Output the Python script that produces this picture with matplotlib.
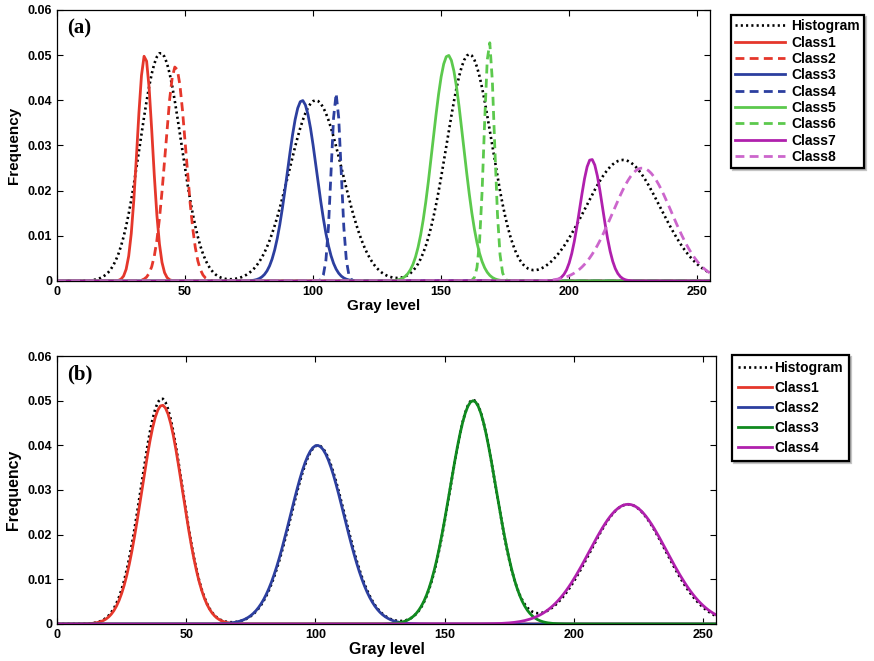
import numpy as np
import matplotlib
matplotlib.use("Agg")
import matplotlib.pyplot as plt
from matplotlib import font_manager

plt.rcParams['font.family'] = ['Liberation Sans', 'DejaVu Sans']
plt.rcParams['font.weight'] = 'bold'

# Gray levels of an 8-bit image
gray_levels = np.arange(256)

# Histogram: four Gaussian modes (peak height, centre, spread)
hist_peaks = [0.0505, 0.0400, 0.0502, 0.0268]
hist_means = [40.5, 101.0, 161.0, 221.0]
hist_sigmas = [8.0, 10.4, 8.8, 14.6]

# (a) eight fitted classes
a_labels = ['Class1', 'Class2', 'Class3', 'Class4',
            'Class5', 'Class6', 'Class7', 'Class8']
a_peaks = [0.050, 0.0475, 0.040, 0.0415, 0.050, 0.053, 0.027, 0.025]
a_means = [34.3, 46.3, 95.7, 109.0, 152.7, 168.8, 208.6, 228.5]
a_sigmas = [3.0, 4.0, 5.7, 1.9, 6.0, 2.0, 4.4, 11.5]
a_colors = ['#e5372b', '#e5372b', '#2c3f9f', '#2c3f9f',
            '#5cc94d', '#5cc94d', '#b020ad', '#cc66cc']
a_styles = ['-', '--', '-', '--', '-', '--', '-', '--']

# (b) four fitted classes
b_labels = ['Class1', 'Class2', 'Class3', 'Class4']
b_peaks = [0.049, 0.040, 0.050, 0.0268]
b_means = [40.7, 100.7, 161.0, 221.0]
b_sigmas = [7.9, 10.4, 8.9, 15.0]
b_colors = ['#e5372b', '#2c3f9f', '#108a1f', '#b020ad']

x_ticks = [0, 50, 100, 150, 200, 250]
y_ticks = [0, 0.01, 0.02, 0.03, 0.04, 0.05, 0.06]
y_tick_labels = ['0', '0.01', '0.02', '0.03', '0.04', '0.05', '0.06']


def gauss(x, peak, mean, sigma):
    return peak * np.exp(-0.5 * ((x - mean) / sigma) ** 2)


histogram = sum(gauss(gray_levels, p, m, s)
                for p, m, s in zip(hist_peaks, hist_means, hist_sigmas))

available = {f.name for f in font_manager.fontManager.ttflist}
legend_a_family = ('Liberation Sans Narrow' if 'Liberation Sans Narrow' in available
                   else 'Liberation Sans')

fig = plt.figure(figsize=(8.74, 6.61), dpi=100)
ax_a = fig.add_axes([0.0652, 0.5749, 0.7472, 0.4100])
ax_b = fig.add_axes([0.0652, 0.0560, 0.7540, 0.4054])

dot_style = (0, (0.8, 1.2))

# Panel (a)
ax_a.plot(gray_levels, histogram, color='black', lw=1.9, ls=dot_style,
          label='Histogram')
for lab, p, m, s, c, st in zip(a_labels, a_peaks, a_means, a_sigmas,
                               a_colors, a_styles):
    ax_a.plot(gray_levels, gauss(gray_levels, p, m, s), color=c, lw=2.0,
              ls=st if st == '-' else (0, (3.2, 1.9)), label=lab)

# Panel (b)
ax_b.plot(gray_levels, histogram, color='black', lw=1.9, ls=dot_style,
          label='Histogram')
for lab, p, m, s, c in zip(b_labels, b_peaks, b_means, b_sigmas, b_colors):
    ax_b.plot(gray_levels, gauss(gray_levels, p, m, s), color=c, lw=2.0,
              label=lab)

for ax, tag, lab_size in ((ax_a, '(a)', 11), (ax_b, '(b)', 11.4)):
    ax.set_xlim(0, 255)
    ax.set_ylim(0, 0.06)
    ax.set_xticks(x_ticks)
    ax.set_xticklabels([str(t) for t in x_ticks])
    ax.set_yticks(y_ticks)
    ax.set_yticklabels(y_tick_labels)
    ax.tick_params(direction='in', length=4, width=0.8, top=True, right=True,
                   labelsize=9, pad=3.5)
    for lbl in ax.get_xticklabels() + ax.get_yticklabels():
        lbl.set_fontweight('bold')
    for sp in ax.spines.values():
        sp.set_linewidth(0.9)
    ax.set_xlabel('Gray level', fontsize=lab_size, fontweight='bold', labelpad=0.5)
    ax.set_ylabel('Frequency', fontsize=lab_size, fontweight='bold', labelpad=5)
    ax.text(0.015, 0.93, tag, transform=ax.transAxes, fontsize=15,
            fontweight='bold', family='Liberation Serif', va='center', ha='left')

shadow = {'ox': 1.2, 'oy': -1.2, 'color': '0.55', 'alpha': 0.5}

leg_a = ax_a.legend(loc='upper left', bbox_to_anchor=(0.8364, 0.9773),
                    bbox_transform=fig.transFigure, borderaxespad=0,
                    fancybox=False, edgecolor='black', framealpha=1,
                    handlelength=3.6, handletextpad=0.45, labelspacing=0.17,
                    borderpad=0.3, shadow=shadow,
                    prop={'family': legend_a_family, 'weight': 'bold', 'size': 10})
leg_a.get_frame().set_linewidth(1.6)

leg_b = ax_b.legend(loc='upper left', bbox_to_anchor=(0.8375, 0.4629),
                    bbox_transform=fig.transFigure, borderaxespad=0,
                    fancybox=False, edgecolor='black', framealpha=1,
                    handlelength=2.45, handletextpad=0.2, labelspacing=0.44,
                    borderpad=0.42, shadow=shadow,
                    prop={'family': 'Liberation Sans', 'weight': 'bold', 'size': 10})
leg_b.get_frame().set_linewidth(1.6)

fig.savefig('out.png', dpi=100)
